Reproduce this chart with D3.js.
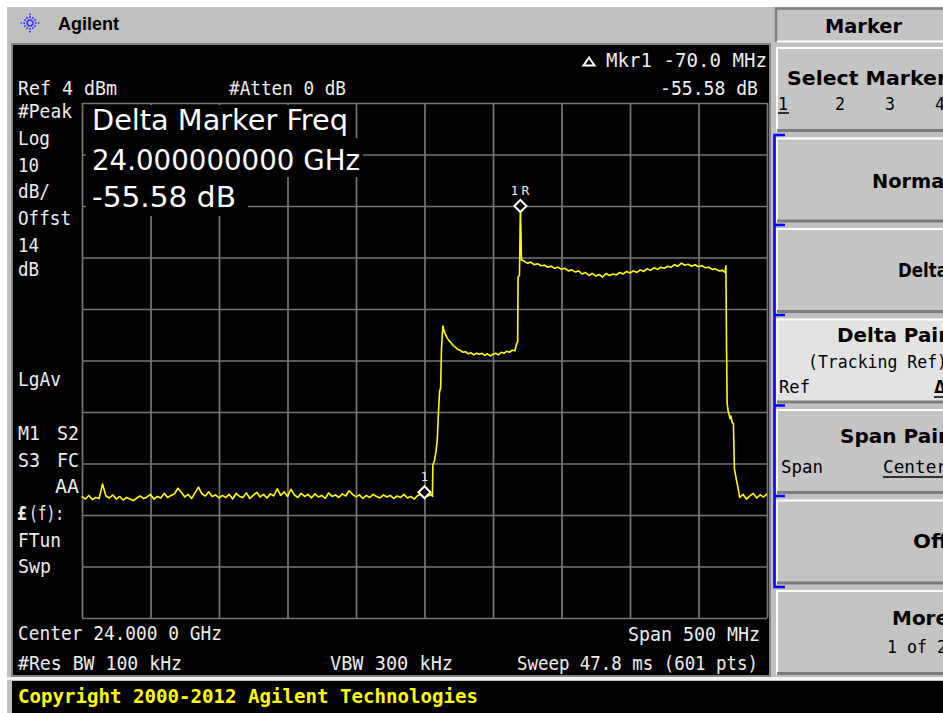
<!DOCTYPE html>
<html>
<head>
<meta charset="utf-8">
<script src="https://cdn.jsdelivr.net/npm/d3@7"></script>
<style>
  html, body { margin: 0; padding: 0; background: #fff; overflow: hidden; }
  svg { display: block; }
</style>
</head>
<body>
<div id="screen"></div>
<script>
// analyzer settings
var refLevel = 4;          // dBm at the top graticule line
var dbPerDiv = 10;
var spanMHz = 500;         // centre 24.000 GHz
var xDivMHz = [-250, -200, -150, -100, -50, 0, 50, 100, 150, 200, 250];
var yDivDbm = [4, -6, -16, -26, -36, -46, -56, -66, -76, -86, -96];

// trace: [offset from centre in MHz, level in dBm]
var floorLow = [
  [-250,-72.4],[-247.5,-72.9],[-245,-72.2],[-242.5,-73.0],[-240,-72.6],[-237.5,-72.8],[-235,-70.0],[-232.5,-72.3],[-230,-72.7],[-227.5,-72.1],
  [-225,-72.9],[-222.5,-72.4],[-220,-73.1],[-217.5,-72.6],[-215,-72.9],[-212.5,-73.2],[-210,-72.7],[-207.5,-72.3],[-205,-72.8],[-202.5,-72.5],
  [-200,-72.0],[-197.5,-72.9],[-195,-72.4],[-192.5,-72.7],[-190,-71.8],[-187.5,-72.6],[-185,-72.2],[-182.5,-71.9],[-180,-70.8],[-177.5,-71.6],
  [-175,-72.5],[-172.5,-72.0],[-170,-72.8],[-167.5,-71.7],[-165,-70.6],[-162.5,-71.9],[-160,-72.3],[-157.5,-71.5],[-155,-72.4],[-152.5,-72.1],
  [-150,-72.7],[-147.5,-72.2],[-145,-72.6],[-142.5,-72.0],[-140,-72.9],[-137.5,-71.8],[-135,-72.4],[-132.5,-72.6],[-130,-71.7],[-127.5,-72.8],
  [-125,-72.2],[-122.5,-71.6],[-120,-72.5],[-117.5,-72.0],[-115,-72.7],[-112.5,-71.9],[-110,-72.3],[-107.5,-70.9],[-105,-72.2],[-102.5,-71.5],
  [-100,-72.4],[-97.5,-71.0],[-95,-72.1],[-92.5,-72.6],[-90,-71.8],[-87.5,-72.4],[-85,-72.0],[-82.5,-72.7],[-80,-71.9],[-77.5,-72.5],
  [-75,-72.2],[-72.5,-72.8],[-70,-71.7],[-67.5,-72.4],[-65,-72.1],[-62.5,-72.6],[-60,-71.9],[-57.5,-72.3],[-55,-71.3],[-52.5,-72.0],
  [-50,-72.5],[-47.5,-72.1],[-45,-72.8],[-42.5,-72.2],[-40,-72.6],[-37.5,-72.0],[-35,-72.4],[-32.5,-72.7],[-30,-72.1],[-27.5,-72.5],
  [-25,-72.2],[-22.5,-72.8],[-20,-72.3],[-17.5,-72.6],[-15,-72.0],[-12.5,-72.7],[-10,-72.4],[-7.5,-72.9],[-5,-72.2],[-2.5,-72.0]
];
var band = [
  [0,-71.58],[2.5,-72.3],[5.0,-72.0],[5.8,-72.4],[6.1,-66.3],[7.3,-65.4],[8.4,-63.6],[9.3,-61.5],[10.2,-56.0],[11.0,-52.0],
  [11.8,-51.3],[12.4,-43.6],[13.4,-39.3],[14.0,-40.0],[15,-40.8],[16.5,-41.6],[18,-42.2],[19.5,-42.6],[21,-43.1],[22.5,-43.4],
  [24,-43.8],[26,-44.0],[28,-44.4],[30,-44.3],[32,-44.7],[34,-44.5],[36,-44.9],[38,-44.6],[40,-44.8],[42,-44.6],
  [44,-45.0],[46,-44.7],[48,-45.1],[50,-44.8],[52,-44.6],[54,-44.9],[56,-44.4],[58,-44.6],[60,-44.2],[62,-44.4],
  [64,-44.0],[66,-44.1],[67.3,-42.7],[68.0,-42.4],[68.3,-29.8],[69.3,-29.5],[70,-16.0],[70.8,-26.5],
  [72.5,-26.7],[75,-27.1],[77.5,-26.9],[80,-27.4],[82.5,-27.2],[85,-27.6],[87.5,-27.5],[90,-27.9],[92.5,-27.7],[95,-28.1],
  [97.5,-27.9],[100,-28.3],[102.5,-28.1],[105,-28.6],[107.5,-28.4],[110,-28.8],[112.5,-28.6],[115,-29.2],[117.5,-28.9],[120,-29.5],
  [122.5,-29.1],[125,-29.6],[127.5,-29.3],[130,-29.8],[132.5,-29.1],[135,-29.5],[137.5,-29.2],[140,-29.4],[142.5,-28.9],[145,-29.2],
  [147.5,-28.7],[150,-29.0],[152.5,-28.6],[155,-28.9],[157.5,-28.4],[160,-28.7],[162.5,-28.2],[165,-28.5],[167.5,-28.0],[170,-28.3],
  [172.5,-27.9],[175,-28.1],[177.5,-27.7],[180,-27.9],[182.5,-27.4],[185,-27.7],[187.5,-27.1],[190,-27.5],[192.5,-27.3],[195,-27.7],
  [197.5,-27.4],[200,-27.8],[202.5,-27.6],[205,-28.0],[207.5,-27.9],[210,-28.3],[212.5,-28.2],[215,-28.6],[217.5,-28.5],[219.4,-28.9],
  [220.0,-27.6],[220.5,-44.3],[220.9,-54.3],[221.6,-55.8],[222.3,-56.4],[223.0,-57.3],[223.7,-56.8],[224.5,-58.0],[225.5,-58.3],[226.2,-67.0],
  [227.0,-68.2],[228.0,-69.6],[229.0,-70.9]
];
var floorHigh = [
  [230,-72.6],[232.5,-72.0],[235,-72.9],[237.5,-72.3],[240,-71.8],[242.5,-72.7],[245,-72.1],[247.5,-72.5],[250,-71.9]
];

var markers = [
  {label: "1", mhz: 0, dbm: -71.58},
  {label: "1R", mhz: 70, dbm: -16.0}
];

// annotation strings
var markerReadout = ["Delta Marker Freq", "24.000000000 GHz", "-55.58 dB"];
var menuTitle = "Marker";
var keyLabels = ["Select Marker", "Normal", "Delta", "Delta Pair", "Span Pair", "Off", "More"];
var copyright = "Copyright 2000-2012 Agilent Technologies";

var W = 943, H = 713;
var svg = d3.select("#screen").append("svg").attr("width", W).attr("height", H);

// instrument body
svg.append("rect").attr("width", W).attr("height", H).attr("fill", "#fff");
svg.append("rect").attr("x", 7).attr("y", 7).attr("width", W - 7).attr("height", H - 7).attr("fill", "#c0c0c0");

// logo + name
var logo = svg.append("g").attr("transform", "translate(30,23)");
d3.range(12).forEach(function(i) {
  var a = i * Math.PI / 6;
  logo.append("line")
    .attr("x1", Math.cos(a) * 2).attr("y1", Math.sin(a) * 2)
    .attr("x2", Math.cos(a) * (i % 3 == 0 ? 9.5 : 7)).attr("y2", Math.sin(a) * (i % 3 == 0 ? 9.5 : 7))
    .attr("stroke", "#3030ff").attr("stroke-width", 1.6).attr("stroke-dasharray", "1.8,1.1");
});
svg.append("text").attr("x", 58).attr("y", 30).text("Agilent")
  .attr("font-family", "'Liberation Sans', Arial, sans-serif").attr("font-weight", "bold")
  .attr("font-size", 18).attr("fill", "#000");

// screen
svg.append("rect").attr("x", 12).attr("y", 44).attr("width", 758).attr("height", 632)
  .attr("fill", "#000").attr("stroke", "#858585").attr("stroke-width", 2);
svg.append("rect").attr("x", 7).attr("y", 677).attr("width", W - 7).attr("height", 3).attr("fill", "#f4f4f4");
svg.append("rect").attr("x", 12).attr("y", 681).attr("width", W - 12).attr("height", 32).attr("fill", "#000");

var x = d3.scaleLinear().domain([-spanMHz / 2, spanMHz / 2]).range([82, 767]);
var y = d3.scaleLinear().domain([refLevel, refLevel - 10 * dbPerDiv]).range([103, 618]);

// graticule
var grid = svg.append("g");
grid.append("g").attr("transform", "translate(0,618)")
  .call(d3.axisBottom(x).tickValues(xDivMHz).tickSize(-515).tickFormat(""));
grid.append("g").attr("transform", "translate(82,0)")
  .call(d3.axisLeft(y).tickValues(yDivDbm).tickSize(-685).tickFormat(""));
grid.selectAll("path.domain").remove();
grid.selectAll("line").attr("stroke", "#767676").attr("stroke-width", 1.7);

function scrText(str, x0, y0, w, size) {
  var t = svg.append("text").attr("x", x0).attr("y", y0).text(str)
    .attr("font-family", "'DejaVu Sans Mono', monospace").attr("font-size", size || 20)
    .attr("fill", "#eeeeee");
  if (w) t.attr("textLength", w).attr("lengthAdjust", "spacingAndGlyphs");
  return t;
}

// big marker readout with its own black background
var readoutLayout = [
  {x: 92, y: 130, w: 256, top: 105, bottom: 138, right: 352},
  {x: 92, y: 170, w: 268, top: 138, bottom: 177, right: 363},
  {x: 92, y: 207, w: 144, top: 177, bottom: 216, right: 248}
];
markerReadout.forEach(function(s, i) {
  var L = readoutLayout[i];
  svg.append("rect").attr("x", 86).attr("y", L.top).attr("width", L.right - 86)
    .attr("height", L.bottom - L.top).attr("fill", "#000");
});
markerReadout.forEach(function(s, i) {
  var L = readoutLayout[i];
  svg.append("text").attr("x", L.x).attr("y", L.y).text(s)
    .attr("font-family", "'DejaVu Sans', sans-serif").attr("font-size", 28)
    .attr("fill", "#fff").attr("textLength", L.w).attr("lengthAdjust", "spacingAndGlyphs");
});

// trace
var trace = floorLow.concat(band, floorHigh);
var line = d3.line().x(function(d) { return x(d[0]); }).y(function(d) { return y(d[1]); });
svg.append("path").datum(trace).attr("d", line)
  .attr("fill", "none").attr("stroke", "#ffff00").attr("stroke-width", 1.6)
  .attr("stroke-linejoin", "round");

// markers
var mk = svg.selectAll("g.mk").data(markers).enter().append("g")
  .attr("transform", function(d) { return "translate(" + x(d.mhz) + "," + y(d.dbm) + ")"; });
mk.append("path").attr("d", "M0,-6L6,0L0,6L-6,0Z")
  .attr("fill", "#000").attr("stroke", "#fff").attr("stroke-width", 2);
mk.append("text").attr("y", -11).attr("x", function(d) { return d.label.length > 1 ? 1 : 0; })
  .attr("text-anchor", "middle").text(function(d) { return d.label; })
  .attr("font-family", "'DejaVu Sans Mono', monospace").attr("font-size", 13)
  .attr("fill", "#e6e6e6")
  .attr("letter-spacing", function(d) { return d.label.length > 1 ? 3 : 0; });

// screen annotations
var notes = [
  ["Ref 4 dBm", 18, 95, 99], ["#Atten 0 dB", 229, 95, 117],
  ["Mkr1  -70.0 MHz", 606, 67, 161], ["-55.58 dB", 660, 95, 98],
  ["#Peak", 18, 118, 54], ["Log", 18, 145, 32], ["10", 18, 172, 21], ["dB/", 18, 198, 32],
  ["Offst", 18, 225, 53], ["14", 18, 252, 21], ["dB", 18, 276, 21], ["LgAv", 18, 386, 43],
  ["M1", 18, 440, 22], ["S2", 57, 440, 22], ["S3", 18, 467, 22], ["FC", 57, 467, 22],
  ["AA", 55, 493, 24], ["(f):", 29, 520, 35], ["FTun", 18, 547, 43], ["Swp", 18, 573, 33],
  ["Center 24.000 0 GHz", 18, 640, 204], ["#Res BW 100 kHz", 18, 670, 164],
  ["VBW 300 kHz", 330, 670, 123], ["Span 500 MHz", 628, 641, 132],
  ["Sweep 47.8 ms (601 pts)", 517, 670, 241]
];
notes.forEach(function(n) { scrText(n[0], n[1], n[2], n[3]); });
scrText("\u00a3", 17, 520, 10).attr("font-weight", "bold");
svg.append("path").attr("d", "M589,57.5L594.5,65.5L583.5,65.5Z")
  .attr("fill", "none").attr("stroke", "#fff").attr("stroke-width", 2);

// copyright line
svg.append("text").attr("x", 18).attr("y", 703).text(copyright)
  .attr("font-family", "'DejaVu Sans Mono', monospace").attr("font-weight", "bold")
  .attr("font-size", 20).attr("fill", "#ffff00")
  .attr("textLength", 460).attr("lengthAdjust", "spacingAndGlyphs");

// soft-key menu
var menu = svg.append("g");
menu.append("rect").attr("x", 776).attr("y", 8).attr("width", 170).attr("height", 34).attr("fill", "#c4c4c4");
menu.append("path").attr("d", "M776,42V8.5H946").attr("fill", "none").attr("stroke", "#808080").attr("stroke-width", 2.5);
menu.append("path").attr("d", "M777,41.5H946").attr("fill", "none").attr("stroke", "#fff").attr("stroke-width", 2);
menu.append("text").attr("x", 825).attr("y", 33).text(menuTitle)
  .attr("font-family", "'DejaVu Sans', sans-serif").attr("font-weight", "bold").attr("font-size", 20)
  .attr("textLength", 77).attr("lengthAdjust", "spacingAndGlyphs");

var keyLayout = [
  {x: 787, y: 85, w: 160}, {x: 872, y: 188, w: 79}, {x: 898, y: 277, w: 50},
  {x: 837, y: 342, w: 111}, {x: 840, y: 443, w: 108}, {x: 913, y: 548, w: 35}, {x: 892, y: 625, w: 57}
];
keyLabels.forEach(function(lbl, i) {
  var top = 47 + i * 90.5;
  var k = menu.append("g");
  k.append("rect").attr("x", 776).attr("y", top).attr("width", 170).attr("height", 85)
    .attr("fill", i == 3 ? "#e3e3e3" : "#c4c4c4");
  k.append("path").attr("d", "M777," + (top + 85) + "V" + (top + 1) + "H946")
    .attr("fill", "none").attr("stroke", "#fff").attr("stroke-width", 2);
  k.append("path").attr("d", "M777," + (top + 83.5) + "H946")
    .attr("fill", "none").attr("stroke", "#7c7c7c").attr("stroke-width", 3);
  k.append("text").attr("x", keyLayout[i].x).attr("y", keyLayout[i].y).text(lbl)
    .attr("font-family", "'DejaVu Sans', sans-serif").attr("font-weight", "bold").attr("font-size", 19)
    .attr("textLength", keyLayout[i].w).attr("lengthAdjust", "spacingAndGlyphs");
});

function keyText(str, x0, y0, w) {
  return menu.append("text").attr("x", x0).attr("y", y0).text(str)
    .attr("font-family", "'DejaVu Sans Mono', monospace").attr("font-size", 18).attr("fill", "#000")
    .attr("textLength", w).attr("lengthAdjust", "spacingAndGlyphs");
}
keyText("1", 778, 110, 10); keyText("2", 835, 110, 10); keyText("3", 885, 110, 10); keyText("4", 935, 110, 10);
keyText("(Tracking Ref)", 808, 368, 139);
keyText("Ref", 779, 393, 31);
keyText("\u0394", 934, 393, 12).attr("font-weight", "bold");
keyText("Span", 781, 473, 42);
keyText("Center", 883, 473, 64);
keyText("1 of 2", 887, 653, 60);
var ul = [[778, 789, 113], [934, 950, 397], [883, 950, 477]];
ul.forEach(function(u) {
  menu.append("line").attr("x1", u[0]).attr("x2", u[1]).attr("y1", u[2]).attr("y2", u[2])
    .attr("stroke", "#000").attr("stroke-width", 1.5);
});

// blue bracket round the marker-mode keys
var br = "M785,135H774.5V587H785";
[225, 315, 405.5, 496].forEach(function(t) { br += "M774.5," + t + "H785"; });
menu.append("path").attr("d", br).attr("fill", "none").attr("stroke", "#0000ff").attr("stroke-width", 2.5);
</script>
</body>
</html>
